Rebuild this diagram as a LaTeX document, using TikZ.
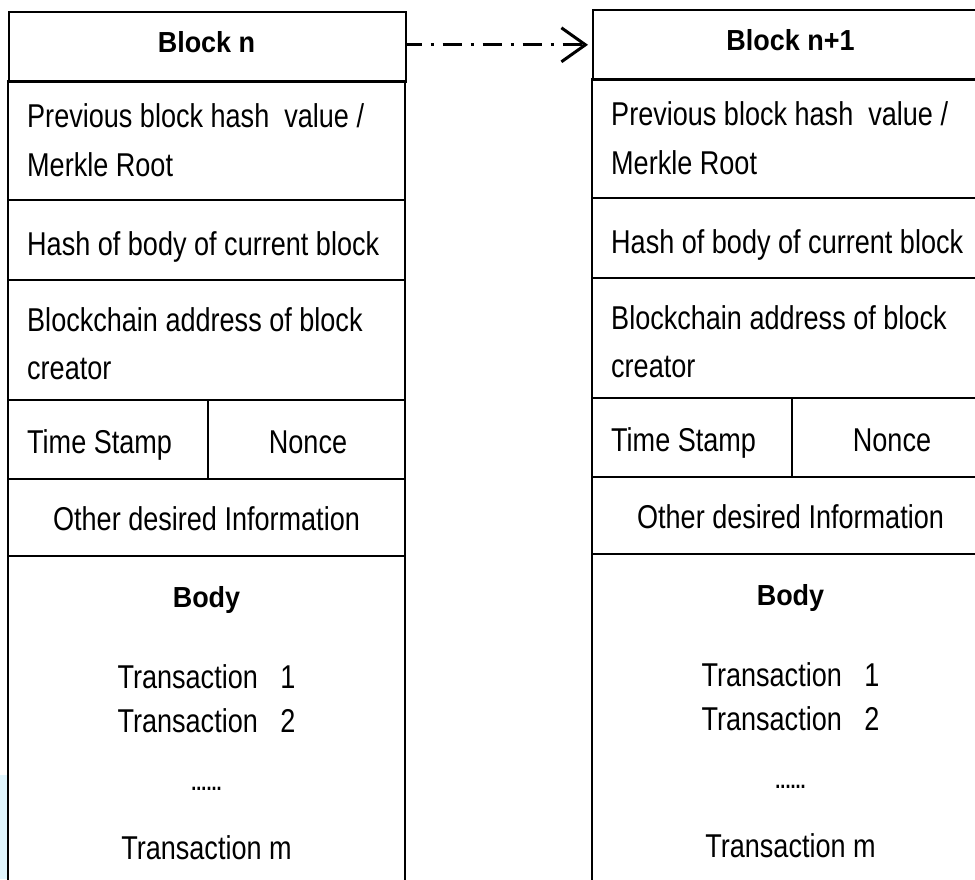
\documentclass[tikz,border=0pt]{standalone}
\usepackage{fontspec}
\setmainfont{Liberation Sans}[FakeStretch=0.82]
\newfontfamily\headfont{Liberation Sans}[FakeStretch=0.93]
\usetikzlibrary{positioning,arrows.meta,calc}

\tikzset{
	cellline/.style={line width=1.6pt},
	txt/.style={inner sep=0pt, font=\fontsize{33}{50}\selectfont},
	headtxt/.style={inner sep=0pt, font=\headfont\bfseries\fontsize{29}{34}\selectfont},
	dotstxt/.style={inner sep=0pt, font=\bfseries\fontsize{22}{22}\selectfont},
	linkarrow/.style={line width=3pt, dash pattern=on 19pt off 9pt on 3pt off 9pt, dash phase=4pt,
		-{Straight Barb[length=24pt,width=34pt]}, shorten >=4pt},
}

\begin{document}
\begin{tikzpicture}[x=1pt,y=-1pt]
		\useasboundingbox (0,0) rectangle (975,879);
		\clip (0,0) rectangle (975,879);
		\fill[cyan!12] (0,775) rectangle (8,879);
		\foreach \i/\x/\y/\title in {1/8/11/Block n,2/592/9/Block n+1}{
			\begin{scope}[shift={(\x,\y)}]
				% header
				\node[draw, cellline, minimum width=397pt, minimum height=70pt, inner sep=0pt, anchor=north west] (hd\i) at (0,0) {};
				\node[headtxt, anchor=base] (ttl\i) at (198.5,41) {\title};
				% rows of the block
				\draw[cellline] (0,70) rectangle (397,890);
				\draw[cellline] (0,189) -- (397,189) (0,269) -- (397,269) (0,389) -- (397,389) (0,468) -- (397,468) (0,545) -- (397,545);
				\draw[cellline] (200,389) -- (200,468);
				\node[txt, anchor=base west] (prev\i) at (19,116) {Previous block hash~~value /};
				\node[txt, anchor=base west] (merk\i) at (19,165) {Merkle Root};
				\node[txt, anchor=base west] (hash\i) at (19,244) {Hash of body of current block};
				\node[txt, anchor=base west] (addr\i) at (19,320) {Blockchain address of block};
				\node[txt, anchor=base west] (crt\i) at (19,368) {creator};
				\node[txt, anchor=base west] (time\i) at (19,442) {Time Stamp};
				\node[txt, anchor=base] (nonce\i) at (300,442) {Nonce};
				\node[txt, anchor=base] (oth\i) at (198.5,519) {Other desired Information};
				% body
				\node[headtxt, anchor=base] (body\i) at (198.5,596) {Body};
				\node[txt, anchor=base] (tra\i) at (198.5,677) {Transaction~~~1};
				\node[txt, anchor=base] (trb\i) at (198.5,721) {Transaction~~~2};
				\node[dotstxt, anchor=base] (dots\i) at (198.5,779) {......};
				\node[txt, anchor=base] (trm\i) at (198.5,848) {Transaction m};
			\end{scope}
		}
		\draw[linkarrow] (hd1.east |- hd2.west) -- (hd2.west);
	\end{tikzpicture}
\end{document}
